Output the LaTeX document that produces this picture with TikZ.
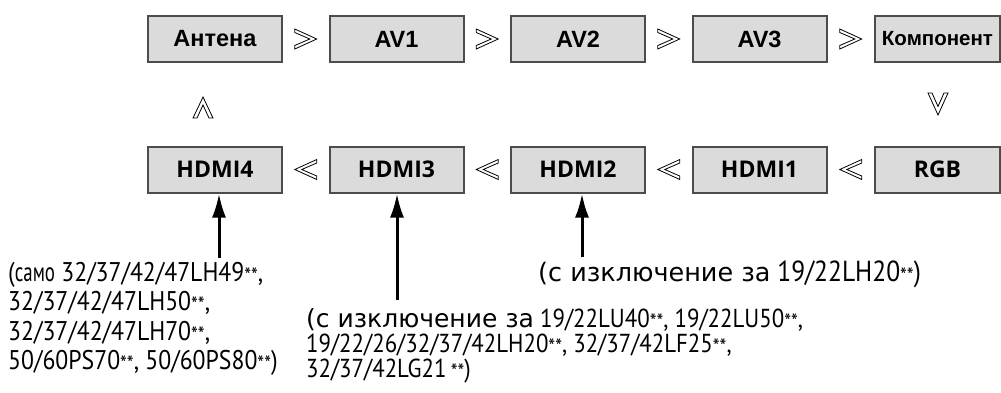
\documentclass[tikz,border=0pt]{standalone}
\usepackage{fontspec}
\setmainfont{Liberation Sans}
\newfontfamily\hdmifont{Open Sans}
\newfontfamily\condfont{PT Sans}[FakeStretch=0.88]
\newfontfamily\narrowfont{PT Sans}[FakeStretch=0.7]
\newfontfamily\widefont{DejaVu Sans}
\usetikzlibrary{calc,arrows.meta}
\newcommand\astx{{\fontsize{22}{20}\selectfont\raisebox{-2pt}{**}}}
\tikzset{
  srcbox/.style={draw=black!70, line width=2pt, fill=black!14, minimum width=134pt, minimum height=46pt, inner sep=0pt, font=\fontsize{23.5}{24}\selectfont\bfseries},
  hdmibox/.style={srcbox, font=\fontsize{23}{24}\selectfont\hdmifont\bfseries},
  hollow/.style={draw=black, line width=0.8pt, fill=white, line join=miter},
  callout/.style={line width=3pt, -{Latex[length=24pt,width=14pt]}},
  note/.style={inner sep=0pt, align=left, anchor=north west}
}
\begin{document}
\begin{tikzpicture}[x=1pt,y=-1pt]
\useasboundingbox (0,0) rectangle (1001,392);
% top row
\node[srcbox] (ant) at (215,39) {Антена};
\node[srcbox] (av1) at (396.5,39) {AV1};
\node[srcbox] (av2) at (578,39) {AV2};
\node[srcbox] (av3) at (759.5,39) {AV3};
\node[srcbox, minimum width=125pt, font=\fontsize{20.5}{21}\selectfont\bfseries] (komp) at (937.5,39) {Компонент};
% bottom row
\node[hdmibox] (h4) at (215,169.5) {HDMI4};
\node[hdmibox] (h3) at (396.5,169.5) {HDMI3};
\node[hdmibox] (h2) at (578,169.5) {HDMI2};
\node[hdmibox] (h1) at (759.5,169.5) {HDMI1};
\node[hdmibox, minimum width=125pt] (rgb) at (937.5,169.5) {RGB};
% right-pointing chevrons
\foreach \a/\b in {ant/av1, av1/av2, av2/av3, av3/komp}{
  \coordinate (m) at ($(\a.east)!0.5!(\b.west)$);
  \draw[hollow] ($(m)+(-11,-10)$) -- ++(22,10) -- ++(-22,10) -- ++(0,-3.5) -- ++(15,-6.5) -- ++(-15,-6.5) -- cycle;
}
% left-pointing chevrons
\foreach \a/\b in {h4/h3, h3/h2, h2/h1, h1/rgb}{
  \coordinate (m) at ($(\a.east)!0.5!(\b.west)$);
  \draw[hollow] ($(m)+(11,-10)$) -- ++(-22,10) -- ++(22,10) -- ++(0,-3.5) -- ++(-15,-6.5) -- ++(15,-6.5) -- cycle;
}
% up chevron
\coordinate (up) at (203,97);
\draw[hollow] (up) -- ++(10,21) -- ++(-4,0) -- ++(-6,-13) -- ++(-6,13) -- ++(-4,0) -- cycle;
% down chevron
\coordinate (dn) at (938,115);
\draw[hollow] (dn) -- ++(10,-22) -- ++(-4,0) -- ++(-6,13.5) -- ++(-6,-13.5) -- ++(-4,0) -- cycle;
% notes
\node[note, font=\fontsize{27}{29.5}\selectfont\condfont] (n4) at (8,262)
  {({\narrowfont само} 32/37/42/47LH49\astx,\\32/37/42/47LH50\astx,\\32/37/42/47LH70\astx,\\50/60PS70\astx, 50/60PS80\astx)};
\node[note, font=\fontsize{26}{25}\selectfont\condfont] (n3) at (306,308)
  {{\widefont\fontsize{25}{25}\selectfont(с изключение за} 19/22LU40\astx, 19/22LU50\astx,\\19/22/26/32/37/42LH20\astx, 32/37/42LF25\astx,\\32/37/42LG21\,\astx)};
\node[note, font=\fontsize{29}{27}\selectfont\condfont] (n2) at (538,261)
  {{\widefont\fontsize{25.5}{25}\selectfont(с изключение за} 19/22LH20\astx)};
% callout arrows
\coordinate (t4) at (219,258);
\coordinate (t3) at (397,300);
\coordinate (t2) at (582,257);
\draw[callout] (t4) -- (t4 |- h4.south);
\draw[callout] (t3) -- (t3 |- h3.south);
\draw[callout] (t2) -- (t2 |- h2.south);
\end{tikzpicture}
\end{document}
